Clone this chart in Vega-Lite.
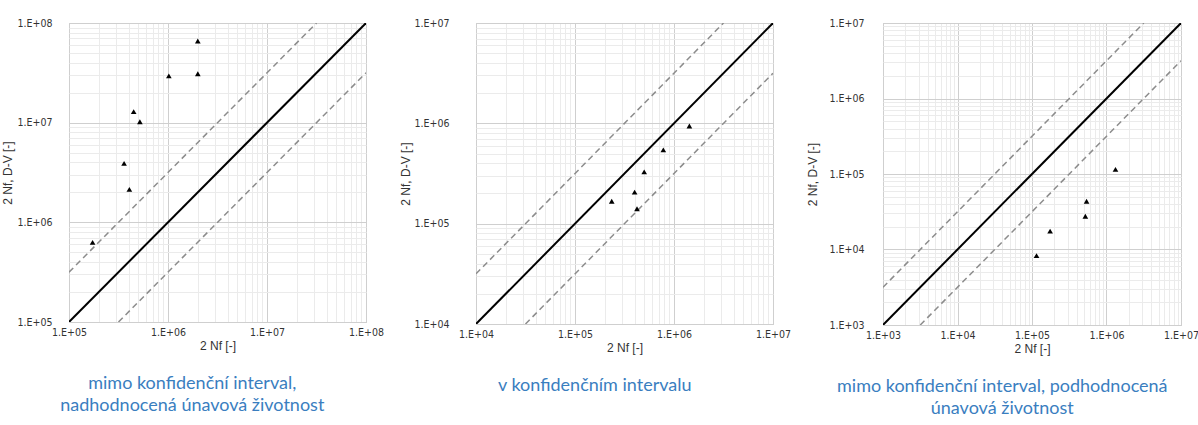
{
  "$schema": "https://vega.github.io/schema/vega-lite/v6.json",
  "padding": {"left": 0, "top": 17, "right": 2, "bottom": 2},
  "background": "white",
  "config": {
    "view": {"stroke": "#c8c8c8", "strokeWidth": 1},
    "axis": {
      "labelFont": "Liberation Sans Narrow, DejaVu Sans Condensed, Liberation Sans",
      "labelFontSize": 10.5,
      "labelColor": "#333333",
      "titleFont": "Liberation Sans",
      "titleFontSize": 12,
      "titleFontWeight": "normal",
      "titleColor": "#333333",
      "ticks": false,
      "domain": false,
      "labelOverlap": false,
      "labelFlush": false,
      "labelBound": false,
      "gridWidth": 1
    },
    "title": {"font": "Lato", "fontSize": 18, "fontWeight": "normal", "color": "#3A7EBF", "orient": "bottom", "anchor": "middle", "frame": "bounds", "offset": 23, "lineHeight": 22}
  },
  "datasets": {
    "pts": [
      {"panel": 1, "x": 173000, "y": 630000},
      {"panel": 1, "x": 360000, "y": 3900000},
      {"panel": 1, "x": 407000, "y": 2140000},
      {"panel": 1, "x": 450000, "y": 12900000},
      {"panel": 1, "x": 520000, "y": 10200000},
      {"panel": 1, "x": 1020000, "y": 29500000},
      {"panel": 1, "x": 2000000, "y": 31000000},
      {"panel": 1, "x": 2000000, "y": 66000000},
      {"panel": 2, "x": 235000, "y": 167000},
      {"panel": 2, "x": 400000, "y": 206000},
      {"panel": 2, "x": 423000, "y": 141000},
      {"panel": 2, "x": 500000, "y": 328000},
      {"panel": 2, "x": 780000, "y": 544000},
      {"panel": 2, "x": 1430000, "y": 940000},
      {"panel": 3, "x": 115000, "y": 8300},
      {"panel": 3, "x": 175000, "y": 17500},
      {"panel": 3, "x": 520000, "y": 27600},
      {"panel": 3, "x": 540000, "y": 43600},
      {"panel": 3, "x": 1320000, "y": 115000}
    ],
    "lines": [
      {"panel": 1, "line": "mid", "x": 100000, "y": 100000},
      {"panel": 1, "line": "mid", "x": 100000000, "y": 100000000},
      {"panel": 1, "line": "upper", "x": 100000, "y": 316200},
      {"panel": 1, "line": "upper", "x": 31620000, "y": 100000000},
      {"panel": 1, "line": "lower", "x": 316200, "y": 100000},
      {"panel": 1, "line": "lower", "x": 100000000, "y": 31620000},
      {"panel": 2, "line": "mid", "x": 10000, "y": 10000},
      {"panel": 2, "line": "mid", "x": 10000000, "y": 10000000},
      {"panel": 2, "line": "upper", "x": 10000, "y": 31620},
      {"panel": 2, "line": "upper", "x": 3162000, "y": 10000000},
      {"panel": 2, "line": "lower", "x": 31620, "y": 10000},
      {"panel": 2, "line": "lower", "x": 10000000, "y": 3162000},
      {"panel": 3, "line": "mid", "x": 1000, "y": 1000},
      {"panel": 3, "line": "mid", "x": 10000000, "y": 10000000},
      {"panel": 3, "line": "upper", "x": 1000, "y": 3162},
      {"panel": 3, "line": "upper", "x": 3162000, "y": 10000000},
      {"panel": 3, "line": "lower", "x": 3162, "y": 1000},
      {"panel": 3, "line": "lower", "x": 10000000, "y": 3162000}
    ]
  },
  "spacing": 14,
  "hconcat": [
    {
      "width": 297, "height": 299,
      "title": {"text": ["mimo konfidenční interval,", "nadhodnocená únavová životnost"]},
      "layer": [
        {
          "data": {"name": "lines"},
          "transform": [{"filter": "datum.panel == 1 && datum.line == 'mid'"}],
          "mark": {"type": "line", "color": "black", "strokeWidth": 2, "clip": true},
          "encoding": {
            "x": {"field": "x", "type": "quantitative", "scale": {"type": "log", "domain": [100000, 100000000], "nice": false},
              "axis": {"title": "2 Nf [-]", "labelPadding": 5, "titlePadding": 3,
                "values": [100000,200000,300000,400000,500000,600000,700000,800000,900000,1000000,2000000,3000000,4000000,5000000,6000000,7000000,8000000,9000000,10000000,20000000,30000000,40000000,50000000,60000000,70000000,80000000,90000000,100000000],
                "labelExpr": "abs(log(datum.value)/LN10 - round(log(datum.value)/LN10)) < 0.001 ? '1.E+' + (round(log(datum.value)/LN10) < 10 ? '0' : '') + round(log(datum.value)/LN10) : ''",
                "gridColor": {"condition": {"test": "abs(log(datum.value)/LN10 - round(log(datum.value)/LN10)) < 0.001", "value": "#cfcfcf"}, "value": "#ebebeb"}}},
            "y": {"field": "y", "type": "quantitative", "scale": {"type": "log", "domain": [100000, 100000000], "nice": false},
              "axis": {"title": "2 Nf, D-V [-]", "labelPadding": 17, "titlePadding": 3,
                "values": [100000,200000,300000,400000,500000,600000,700000,800000,900000,1000000,2000000,3000000,4000000,5000000,6000000,7000000,8000000,9000000,10000000,20000000,30000000,40000000,50000000,60000000,70000000,80000000,90000000,100000000],
                "labelExpr": "abs(log(datum.value)/LN10 - round(log(datum.value)/LN10)) < 0.001 ? '1.E+' + (round(log(datum.value)/LN10) < 10 ? '0' : '') + round(log(datum.value)/LN10) : ''",
                "gridColor": {"condition": {"test": "abs(log(datum.value)/LN10 - round(log(datum.value)/LN10)) < 0.001", "value": "#cfcfcf"}, "value": "#ebebeb"}}}
          }
        },
        {
          "data": {"name": "lines"},
          "transform": [{"filter": "datum.panel == 1 && datum.line != 'mid'"}],
          "mark": {"type": "line", "color": "#8c8c8c", "strokeWidth": 1.5, "strokeDash": [6, 4], "clip": true},
          "encoding": {
            "x": {"field": "x", "type": "quantitative"},
            "y": {"field": "y", "type": "quantitative"},
            "detail": {"field": "line"}
          }
        },
        {
          "data": {"name": "pts"},
          "transform": [{"filter": "datum.panel == 1"}],
          "mark": {"type": "point", "shape": "triangle-up", "filled": true, "color": "black", "size": 32, "opacity": 1},
          "encoding": {
            "x": {"field": "x", "type": "quantitative"},
            "y": {"field": "y", "type": "quantitative"}
          }
        }
      ]
    },
    {
      "width": 297, "height": 301,
      "title": {"text": "v konfidenčním intervalu"},
      "layer": [
        {
          "data": {"name": "lines"},
          "transform": [{"filter": "datum.panel == 2 && datum.line == 'mid'"}],
          "mark": {"type": "line", "color": "black", "strokeWidth": 2, "clip": true},
          "encoding": {
            "x": {"field": "x", "type": "quantitative", "scale": {"type": "log", "domain": [10000, 10000000], "nice": false},
              "axis": {"title": "2 Nf [-]", "labelPadding": 5, "titlePadding": 3,
                "values": [10000,20000,30000,40000,50000,60000,70000,80000,90000,100000,200000,300000,400000,500000,600000,700000,800000,900000,1000000,2000000,3000000,4000000,5000000,6000000,7000000,8000000,9000000,10000000],
                "labelExpr": "abs(log(datum.value)/LN10 - round(log(datum.value)/LN10)) < 0.001 ? '1.E+' + (round(log(datum.value)/LN10) < 10 ? '0' : '') + round(log(datum.value)/LN10) : ''",
                "gridColor": {"condition": {"test": "abs(log(datum.value)/LN10 - round(log(datum.value)/LN10)) < 0.001", "value": "#cfcfcf"}, "value": "#ebebeb"}}},
            "y": {"field": "y", "type": "quantitative", "scale": {"type": "log", "domain": [10000, 10000000], "nice": false},
              "axis": {"title": "2 Nf, D-V [-]", "labelPadding": 27, "titlePadding": 2,
                "values": [10000,20000,30000,40000,50000,60000,70000,80000,90000,100000,200000,300000,400000,500000,600000,700000,800000,900000,1000000,2000000,3000000,4000000,5000000,6000000,7000000,8000000,9000000,10000000],
                "labelExpr": "abs(log(datum.value)/LN10 - round(log(datum.value)/LN10)) < 0.001 ? '1.E+' + (round(log(datum.value)/LN10) < 10 ? '0' : '') + round(log(datum.value)/LN10) : ''",
                "gridColor": {"condition": {"test": "abs(log(datum.value)/LN10 - round(log(datum.value)/LN10)) < 0.001", "value": "#cfcfcf"}, "value": "#ebebeb"}}}
          }
        },
        {
          "data": {"name": "lines"},
          "transform": [{"filter": "datum.panel == 2 && datum.line != 'mid'"}],
          "mark": {"type": "line", "color": "#8c8c8c", "strokeWidth": 1.5, "strokeDash": [6, 4], "clip": true},
          "encoding": {
            "x": {"field": "x", "type": "quantitative"},
            "y": {"field": "y", "type": "quantitative"},
            "detail": {"field": "line"}
          }
        },
        {
          "data": {"name": "pts"},
          "transform": [{"filter": "datum.panel == 2"}],
          "mark": {"type": "point", "shape": "triangle-up", "filled": true, "color": "black", "size": 32, "opacity": 1},
          "encoding": {
            "x": {"field": "x", "type": "quantitative"},
            "y": {"field": "y", "type": "quantitative"}
          }
        }
      ]
    },
    {
      "width": 298, "height": 302,
      "title": {"text": ["mimo konfidenční interval, podhodnocená", "únavová životnost"]},
      "layer": [
        {
          "data": {"name": "lines"},
          "transform": [{"filter": "datum.panel == 3 && datum.line == 'mid'"}],
          "mark": {"type": "line", "color": "black", "strokeWidth": 2, "clip": true},
          "encoding": {
            "x": {"field": "x", "type": "quantitative", "scale": {"type": "log", "domain": [1000, 10000000], "nice": false},
              "axis": {"title": "2 Nf [-]", "labelPadding": 5, "titlePadding": 3,
                "values": [1000,2000,3000,4000,5000,6000,7000,8000,9000,10000,20000,30000,40000,50000,60000,70000,80000,90000,100000,200000,300000,400000,500000,600000,700000,800000,900000,1000000,2000000,3000000,4000000,5000000,6000000,7000000,8000000,9000000,10000000],
                "labelExpr": "abs(log(datum.value)/LN10 - round(log(datum.value)/LN10)) < 0.001 ? '1.E+' + (round(log(datum.value)/LN10) < 10 ? '0' : '') + round(log(datum.value)/LN10) : ''",
                "gridColor": {"condition": {"test": "abs(log(datum.value)/LN10 - round(log(datum.value)/LN10)) < 0.001", "value": "#cfcfcf"}, "value": "#ebebeb"}}},
            "y": {"field": "y", "type": "quantitative", "scale": {"type": "log", "domain": [1000, 10000000], "nice": false},
              "axis": {"title": "2 Nf, D-V [-]", "labelPadding": 19, "titlePadding": 10,
                "values": [1000,2000,3000,4000,5000,6000,7000,8000,9000,10000,20000,30000,40000,50000,60000,70000,80000,90000,100000,200000,300000,400000,500000,600000,700000,800000,900000,1000000,2000000,3000000,4000000,5000000,6000000,7000000,8000000,9000000,10000000],
                "labelExpr": "abs(log(datum.value)/LN10 - round(log(datum.value)/LN10)) < 0.001 ? '1.E+' + (round(log(datum.value)/LN10) < 10 ? '0' : '') + round(log(datum.value)/LN10) : ''",
                "gridColor": {"condition": {"test": "abs(log(datum.value)/LN10 - round(log(datum.value)/LN10)) < 0.001", "value": "#cfcfcf"}, "value": "#ebebeb"}}}
          }
        },
        {
          "data": {"name": "lines"},
          "transform": [{"filter": "datum.panel == 3 && datum.line != 'mid'"}],
          "mark": {"type": "line", "color": "#8c8c8c", "strokeWidth": 1.5, "strokeDash": [6, 4], "clip": true},
          "encoding": {
            "x": {"field": "x", "type": "quantitative"},
            "y": {"field": "y", "type": "quantitative"},
            "detail": {"field": "line"}
          }
        },
        {
          "data": {"name": "pts"},
          "transform": [{"filter": "datum.panel == 3"}],
          "mark": {"type": "point", "shape": "triangle-up", "filled": true, "color": "black", "size": 32, "opacity": 1},
          "encoding": {
            "x": {"field": "x", "type": "quantitative"},
            "y": {"field": "y", "type": "quantitative"}
          }
        }
      ]
    }
  ]
}
